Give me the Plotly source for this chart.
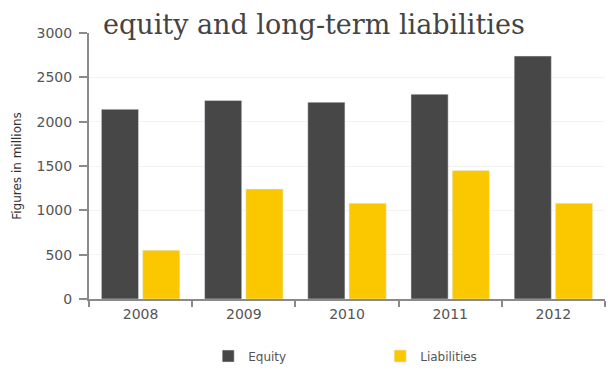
import plotly.graph_objects as go

# Balance-sheet figures, in millions
years = ["2008", "2009", "2010", "2011", "2012"]
equity = [2140, 2240, 2220, 2310, 2740]
liabilities = [550, 1240, 1080, 1450, 1080]
y_ticks = [0, 500, 1000, 1500, 2000, 2500, 3000]

DARK = "#474747"
GOLD = "#fbc800"
AXIS = "#8a8a8a"
TEXT = "#555555"
SANS = "DejaVu Sans, sans-serif"

fig = go.Figure()
fig.add_trace(go.Bar(name="Equity", x=years, y=equity, marker_color=DARK))
fig.add_trace(go.Bar(name="Liabilities", x=years, y=liabilities, marker_color=GOLD))

fig.update_layout(
    width=608,
    height=371,
    margin=dict(l=89, r=3, t=33, b=72, autoexpand=False),
    paper_bgcolor="white",
    plot_bgcolor="white",
    barmode="group",
    bargap=0.2,
    bargroupgap=0.1,
    font=dict(family=SANS, size=12, color=TEXT),
    title=dict(
        text="equity and long-term liabilities",
        x=103 / 608, xanchor="left",
        y=1 - 25 / 371, yanchor="middle",
        font=dict(family="DejaVu Serif, serif", size=27, color="#444444"),
    ),
    legend=dict(
        orientation="h",
        x=0.231, xanchor="left",
        y=-0.16, yanchor="top",
        entrywidth=127,
        entrywidthmode="pixels",
        font=dict(family=SANS, size=12, color=TEXT),
        traceorder="normal",
    ),
    showlegend=True,
)

fig.update_xaxes(
    type="category",
    showline=True, linecolor=AXIS, linewidth=2,
    ticks="outside", tickson="boundaries", ticklen=6, tickcolor=AXIS, tickwidth=2,
    showgrid=False,
    ticklabelstandoff=1,
    tickfont=dict(family=SANS, size=14, color=TEXT),
)
fig.update_yaxes(
    range=[0, 3000],
    tickvals=y_ticks,
    ticktext=[str(v) for v in y_ticks],
    showline=True, linecolor=AXIS, linewidth=2,
    ticks="outside", ticklen=8, tickcolor=AXIS, tickwidth=2,
    ticklabelstandoff=4,
    showgrid=True, gridcolor="#f3f3f3", gridwidth=1,
    zeroline=False,
    tickfont=dict(family=SANS, size=14, color=TEXT),
    title=dict(text="Figures in millions", font=dict(family=SANS, size=12, color="#333333"), standoff=12),
)

fig.write_html("out.html")
